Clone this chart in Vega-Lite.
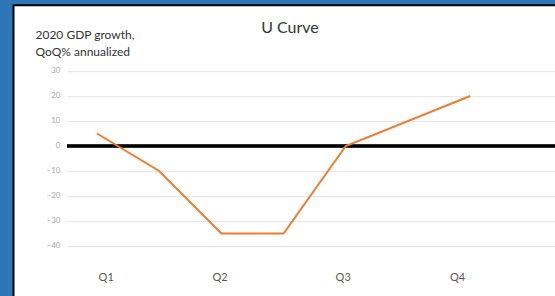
{
  "$schema": "https://vega.github.io/schema/vega-lite/v6.json",
  "width": 545,
  "height": 295,
  "autosize": {"type": "none"},
  "padding": {"left": 13.5, "top": 5.2, "right": 0, "bottom": 0},
  "background": "#2E75B6",
  "config": {
    "font": "Lato",
    "view": {"fill": "white", "stroke": "black", "strokeWidth": 2}
  },
  "title": {
    "text": "U Curve",
    "fontSize": 16,
    "fontWeight": "normal",
    "color": "#333333",
    "baseline": "alphabetic",
    "frame": "group",
    "anchor": "middle",
    "offset": -28,
    "dx": 4,
    "dy": 16
  },
  "data": {
    "values": [
      {"t": 0, "growth": 5},
      {"t": 1, "growth": -10},
      {"t": 2, "growth": -35},
      {"t": 3, "growth": -35},
      {"t": 4, "growth": 0},
      {"t": 6, "growth": 20}
    ]
  },
  "layer": [
    {
      "mark": {"type": "rule", "color": "black", "strokeWidth": 2.5},
      "encoding": {
        "y": {"datum": 0, "type": "quantitative"},
        "x": {"datum": -0.482, "type": "quantitative"},
        "x2": {"datum": 7.363}
      }
    },
    {
      "mark": {"type": "line", "color": "#ED7D31", "strokeWidth": 2},
      "encoding": {
        "x": {
          "field": "t",
          "type": "quantitative",
          "scale": {"domain": [-0.482, 7.363], "range": [53.5, 541.5], "nice": false, "zero": false},
          "axis": {
            "orient": "bottom",
            "offset": -54.2,
            "values": [0.14, 1.97, 3.95, 5.79],
            "labelExpr": "datum.value < 1 ? 'Q1' : datum.value < 3 ? 'Q2' : datum.value < 5 ? 'Q3' : 'Q4'",
            "domain": false,
            "ticks": false,
            "tickSize": 0,
            "grid": false,
            "labelPadding": 35,
            "labelBaseline": "alphabetic",
            "labelFontSize": 11,
            "labelColor": "#595959",
            "title": null
          }
        },
        "y": {
          "field": "growth",
          "type": "quantitative",
          "scale": {"domain": [-40, 30], "range": [240.8, 65.8], "nice": false, "zero": false},
          "axis": {
            "orient": "left",
            "offset": -53.5,
            "values": [-40, -30, -20, -10, 0, 10, 20, 30],
            "domain": false,
            "ticks": false,
            "tickSize": 0,
            "labelPadding": 7,
            "labelFontSize": 8,
            "labelColor": "#a6a6a6",
            "grid": true,
            "gridColor": {"condition": {"test": "datum.value === 0", "value": "transparent"}, "value": "#e3e3e3"},
            "gridWidth": 1,
            "title": ["2020 GDP growth,", "QoQ% annualized"],
            "titleAngle": 0,
            "titleAlign": "left",
            "titleBaseline": "alphabetic",
            "titleX": -32,
            "titleY": 33,
            "titleFontSize": 12,
            "titleFontWeight": "normal",
            "titleColor": "#333333",
            "titleLineHeight": 17
          }
        }
      }
    }
  ]
}
